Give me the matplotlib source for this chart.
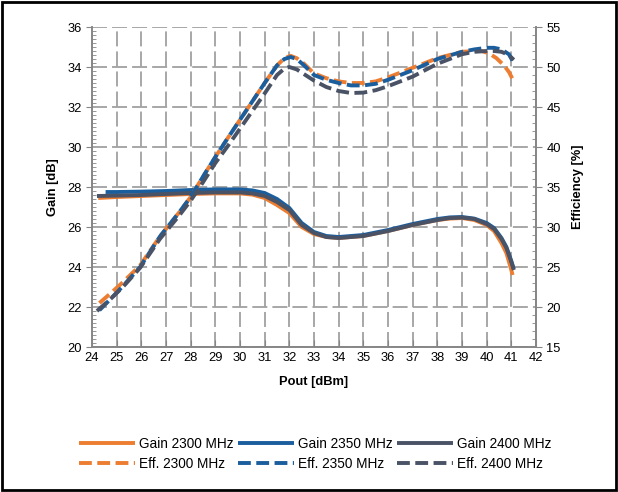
import matplotlib
matplotlib.use("Agg")
import matplotlib.pyplot as plt
from matplotlib.patches import Rectangle
from matplotlib.ticker import MultipleLocator

plt.rcParams['font.family'] = ['Liberation Sans', 'DejaVu Sans']

# Gain curves (left axis, dB)
pout_g2300 = [24.25, 25, 26, 27, 28, 29, 30, 30.5, 31, 31.5, 32, 32.5, 33, 33.5, 34, 35, 36, 37, 38, 38.5, 39, 39.5, 40, 40.3, 40.6, 40.8, 41.0, 41.05]
gain_2300 = [27.45, 27.5, 27.55, 27.6, 27.65, 27.68, 27.68, 27.62, 27.45, 27.1, 26.7, 26.0, 25.65, 25.5, 25.45, 25.55, 25.8, 26.1, 26.35, 26.42, 26.45, 26.35, 26.1, 25.8, 25.2, 24.7, 23.85, 23.6]

pout_g2350 = [24.55, 25, 26, 27, 28, 29, 30, 30.5, 31, 31.5, 32, 32.5, 33, 33.5, 34, 35, 36, 37, 38, 38.5, 39, 39.5, 40, 40.3, 40.6, 40.8, 41.0, 41.1]
gain_2350 = [27.75, 27.75, 27.77, 27.8, 27.85, 27.88, 27.88, 27.83, 27.7, 27.4, 26.95, 26.2, 25.75, 25.55, 25.5, 25.6, 25.85, 26.15, 26.4, 26.48, 26.5, 26.42, 26.2, 25.95, 25.45, 25.0, 24.3, 23.9]

pout_g2400 = [24.2, 25, 26, 27, 28, 29, 30, 30.5, 31, 31.5, 32, 32.5, 33, 33.5, 34, 35, 36, 37, 38, 38.5, 39, 39.5, 40, 40.3, 40.6, 40.8, 41.0, 41.1]
gain_2400 = [27.55, 27.57, 27.6, 27.65, 27.7, 27.73, 27.73, 27.68, 27.55, 27.25, 26.85, 26.1, 25.7, 25.5, 25.45, 25.55, 25.8, 26.1, 26.35, 26.45, 26.47, 26.4, 26.15, 25.9, 25.4, 24.95, 24.25, 23.85]

# Efficiency curves (right axis, %)
pout_e2300 = [24.3, 24.75, 25.25, 25.95, 26.75, 27.5, 28, 28.5, 29, 29.5, 30, 30.5, 31, 31.5, 31.8, 32.05, 32.3, 32.6, 33, 33.5, 34, 34.5, 35, 35.5, 36, 37, 38, 39, 39.5, 39.8, 40.1, 40.4, 40.7, 40.9, 41.05]
eff_2300 = [20.5, 21.7, 23.1, 25.2, 28.8, 31.7, 33.75, 36.3, 38.75, 41.1, 43.4, 45.7, 48.0, 50.2, 51.1, 51.4, 51.1, 50.4, 49.2, 48.6, 48.2, 48.0, 48.0, 48.2, 48.7, 49.9, 51.1, 51.9, 52.0, 52.0, 51.7, 51.1, 50.2, 49.4, 48.5]

pout_e2350 = [24.3, 24.75, 25.25, 25.95, 26.75, 27.5, 28, 28.5, 29, 29.5, 30, 30.5, 31, 31.5, 31.8, 32.05, 32.3, 32.6, 33, 33.5, 34, 34.5, 35, 35.5, 36, 37, 38, 39, 39.5, 40, 40.3, 40.6, 40.9, 41.1]
eff_2350 = [19.6, 21.0, 22.6, 25.0, 28.8, 31.7, 33.75, 36.3, 38.75, 41.1, 43.4, 45.7, 48.0, 50.2, 51.0, 51.25, 51.0, 50.2, 49.0, 48.4, 48.0, 47.7, 47.7, 47.9, 48.4, 49.6, 51.0, 51.9, 52.2, 52.4, 52.4, 52.2, 51.6, 50.5]

pout_e2400 = [24.2, 24.75, 25.25, 25.95, 26.75, 27.5, 28, 28.5, 29, 29.5, 30, 30.5, 31, 31.5, 31.8, 32.0, 32.3, 32.6, 33, 33.5, 34, 34.5, 35, 35.5, 36, 37, 38, 39, 39.5, 40, 40.3, 40.6, 40.9, 41.1]
eff_2400 = [19.5, 21.0, 22.5, 24.9, 28.5, 31.3, 33.3, 35.6, 38.0, 40.1, 42.3, 44.5, 46.7, 49.0, 49.8, 50.0, 49.7, 49.1, 48.3, 47.5, 47.0, 46.75, 46.8, 47.1, 47.6, 48.8, 50.4, 51.6, 51.9, 52.0, 52.0, 51.9, 51.5, 50.9]

c_orange = '#ED7D31'
c_blue = '#1B5E9E'
c_gray = '#4A5366'
axis_gray = '#868686'

fig = plt.figure(figsize=(6.18, 4.92), dpi=100)
ax = fig.add_axes([0.1489, 0.2947, 0.7184, 0.6504])
ax2 = ax.twinx()

lw = 2.8
dash = (0, (3.3, 1.4))
g1, = ax.plot(pout_g2300, gain_2300, color=c_orange, lw=lw, solid_capstyle='butt')
g2, = ax.plot(pout_g2350, gain_2350, color=c_blue, lw=lw, solid_capstyle='butt')
g3, = ax.plot(pout_g2400, gain_2400, color=c_gray, lw=lw, solid_capstyle='butt')
e1, = ax2.plot(pout_e2300, eff_2300, color=c_orange, lw=lw, ls=dash)
e2, = ax2.plot(pout_e2350, eff_2350, color=c_blue, lw=lw, ls=dash)
e3, = ax2.plot(pout_e2400, eff_2400, color=c_gray, lw=lw, ls=dash)

ax.set_xlim(24, 42)
ax.set_ylim(20, 36)
ax2.set_ylim(15, 55)
ax.xaxis.set_major_locator(MultipleLocator(1))
ax.yaxis.set_major_locator(MultipleLocator(2))
ax.yaxis.set_minor_locator(MultipleLocator(0.2))
ax2.yaxis.set_major_locator(MultipleLocator(5))
ax2.yaxis.set_minor_locator(MultipleLocator(1))

ax.grid(True, which='major', color='#A0A0A0', lw=1.3, ls=(0, (8.3, 2.8)))
ax.set_axisbelow(True)
ax.yaxis.get_gridlines()[-1].set_visible(False)

for a in (ax, ax2):
    a.spines['top'].set_visible(False)
    for s in ('left', 'right', 'bottom'):
        a.spines[s].set_color(axis_gray)
        a.spines[s].set_linewidth(1.2)
    a.tick_params(colors=axis_gray, labelcolor='black', labelsize=9.3)
ax.tick_params(axis='x', direction='in', length=5)
ax.tick_params(axis='y', which='major', direction='out', length=4)
ax.tick_params(axis='y', which='minor', direction='in', length=3, color=axis_gray)
ax2.tick_params(axis='y', which='major', direction='out', length=4)
ax2.tick_params(axis='y', which='minor', direction='in', length=3, color=axis_gray)

ax.set_xlabel('Pout [dBm]', fontsize=9.3, fontweight='bold', labelpad=9)
ax.set_ylabel('Gain [dB]', fontsize=9.3, fontweight='bold', labelpad=6)
ax2.set_ylabel('Efficiency [%]', fontsize=9.3, fontweight='bold', labelpad=8)

handles = [g1, e1, g2, e2, g3, e3]
labels = ['Gain 2300 MHz', 'Eff. 2300 MHz', 'Gain 2350 MHz', 'Eff. 2350 MHz', 'Gain 2400 MHz', 'Eff. 2400 MHz']
fig.legend(handles, labels, ncol=3, loc='center', bbox_to_anchor=(0.51, 0.077),
           frameon=False, fontsize=9.8, handlelength=4.1, handletextpad=0.3,
           columnspacing=0.35, labelspacing=0.45)

fig.patches.append(Rectangle((0.004, 0.004), 0.992, 0.992, transform=fig.transFigure,
                             fill=False, edgecolor='black', lw=2))

fig.savefig('out.png', dpi=100)
